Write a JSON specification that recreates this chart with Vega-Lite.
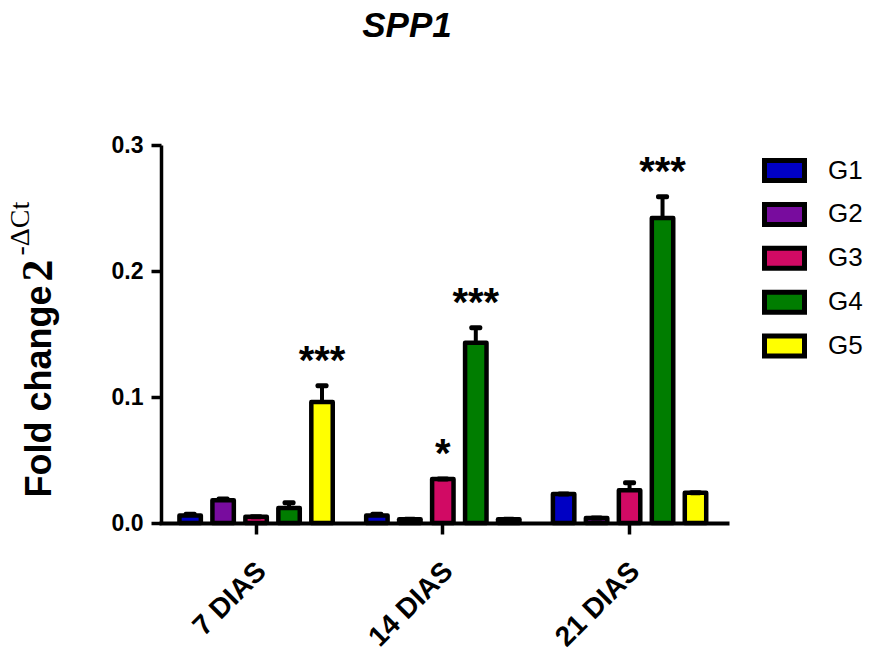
{
  "$schema": "https://vega.github.io/schema/vega-lite/v6.json",
  "width": 566,
  "height": 378,
  "autosize": {"type": "none"},
  "padding": {"left": 161, "top": 145, "right": 144, "bottom": 132},
  "background": "white",
  "title": {"text": "SPP1", "font": "Liberation Sans", "fontSize": 35, "fontWeight": "bold", "fontStyle": "italic", "color": "black", "anchor": "middle", "frame": "group", "dx": -37, "offset": 62, "baseline": "alphabetic"},
  "data": {"values": [
    {"day": "7 DIAS", "group": "G1", "mean": 0.006, "upper": 0.007, "sig": ""},
    {"day": "7 DIAS", "group": "G2", "mean": 0.018, "upper": 0.019, "sig": ""},
    {"day": "7 DIAS", "group": "G3", "mean": 0.005, "upper": 0.005, "sig": ""},
    {"day": "7 DIAS", "group": "G4", "mean": 0.012, "upper": 0.016, "sig": ""},
    {"day": "7 DIAS", "group": "G5", "mean": 0.096, "upper": 0.109, "sig": "***"},
    {"day": "14 DIAS", "group": "G1", "mean": 0.006, "upper": 0.007, "sig": ""},
    {"day": "14 DIAS", "group": "G2", "mean": 0.003, "upper": 0.003, "sig": ""},
    {"day": "14 DIAS", "group": "G3", "mean": 0.035, "upper": 0.035, "sig": "*"},
    {"day": "14 DIAS", "group": "G4", "mean": 0.143, "upper": 0.155, "sig": "***"},
    {"day": "14 DIAS", "group": "G5", "mean": 0.003, "upper": 0.003, "sig": ""},
    {"day": "21 DIAS", "group": "G1", "mean": 0.023, "upper": 0.023, "sig": ""},
    {"day": "21 DIAS", "group": "G2", "mean": 0.004, "upper": 0.004, "sig": ""},
    {"day": "21 DIAS", "group": "G3", "mean": 0.026, "upper": 0.032, "sig": ""},
    {"day": "21 DIAS", "group": "G4", "mean": 0.242, "upper": 0.259, "sig": "***"},
    {"day": "21 DIAS", "group": "G5", "mean": 0.024, "upper": 0.024, "sig": ""}
  ]},
  "encoding": {
    "x": {
      "field": "day", "type": "nominal", "sort": ["7 DIAS", "14 DIAS", "21 DIAS"],
      "scale": {"paddingInner": 0.179, "paddingOuter": 0.105, "align": 0.47},
      "axis": {"title": null, "labelAngle": -45, "labelAlign": "right", "labelBaseline": "middle", "labelFontSize": 28, "labelFontWeight": "bold", "labelFont": "Liberation Sans", "labelPadding": 33, "labelOffset": 6, "tickSize": 11, "tickWidth": 3.5, "domainWidth": 4, "domainCap": "square"}
    },
    "xOffset": {"field": "group", "type": "nominal", "sort": ["G1", "G2", "G3", "G4", "G5"], "scale": {"paddingInner": 0.35, "paddingOuter": 0}}
  },
  "layer": [
    {
      "mark": {"type": "bar", "stroke": "black", "strokeWidth": 4.5, "strokeJoin": "round"},
      "encoding": {
        "y": {"field": "mean", "type": "quantitative", "scale": {"domain": [0, 0.3], "nice": false},
          "axis": {"orient": "left", "values": [0, 0.1, 0.2, 0.3], "format": ".1f", "labelFontSize": 23, "labelFontWeight": "bold", "labelFont": "Liberation Sans", "labelPadding": 8, "tickSize": 10, "tickWidth": 3.5, "domainWidth": 3.5,
            "title": "Fold change", "titleFont": "Liberation Sans", "titleFontSize": 36, "titleFontWeight": "bold", "titleAngle": -90, "titleAlign": "left", "titleBaseline": "alphabetic", "titleX": -111, "titleY": 352}},
        "color": {"field": "group", "type": "nominal",
          "scale": {"domain": ["G1", "G2", "G3", "G4", "G5"], "range": ["#0000C4", "#780C9E", "#D10A64", "#007D00", "#FFFF00"]},
          "legend": {"orient": "none", "legendX": 601, "legendY": 3, "title": null, "padding": 0, "symbolType": "M-1,-0.5L1,-0.5L1,0.5L-1,0.5Z", "symbolSize": 1600, "symbolStrokeColor": "black", "symbolStrokeWidth": 5, "symbolOpacity": 1, "labelFontSize": 26, "labelFont": "Liberation Sans", "labelColor": "black", "labelOffset": 21, "rowPadding": 0.9}}
      }
    },
    {
      "mark": {"type": "rule", "color": "black", "strokeWidth": 4},
      "encoding": {
        "y": {"field": "mean", "type": "quantitative", "scale": {"domain": [0, 0.3], "nice": false},
          "axis": {"orient": "left", "labels": false, "ticks": false, "domain": false, "grid": false,
            "title": "2", "titleFont": "Liberation Serif", "titleFontSize": 44, "titleFontWeight": "bold", "titleAngle": -90, "titleAlign": "left", "titleBaseline": "alphabetic", "titleX": -110, "titleY": 136}},
        "y2": {"field": "upper"}
      }
    },
    {
      "mark": {"type": "tick", "color": "black", "opacity": 1, "thickness": 5, "size": 13, "orient": "horizontal", "cornerRadius": 2},
      "encoding": {
        "y": {"field": "upper", "type": "quantitative", "scale": {"domain": [0, 0.3], "nice": false},
          "axis": {"orient": "left", "labels": false, "ticks": false, "domain": false, "grid": false,
            "title": "-ΔCt", "titleFont": "Liberation Serif", "titleFontSize": 28, "titleFontWeight": "normal", "titleAngle": -90, "titleAlign": "left", "titleBaseline": "alphabetic", "titleX": -133, "titleY": 110}}
      }
    },
    {
      "mark": {"type": "text", "color": "black", "font": "Liberation Sans", "fontSize": 40, "fontWeight": "bold", "align": "center", "baseline": "alphabetic", "dy": -12},
      "encoding": {
        "y": {"field": "upper", "type": "quantitative", "scale": {"domain": [0, 0.3], "nice": false}, "axis": null},
        "text": {"field": "sig"}
      }
    }
  ],
  "resolve": {"axis": {"y": "independent"}},
  "config": {
    "view": {"stroke": null},
    "font": "Liberation Sans",
    "axis": {"domainColor": "black", "tickColor": "black", "labelColor": "black", "titleColor": "black", "grid": false}
  }
}
